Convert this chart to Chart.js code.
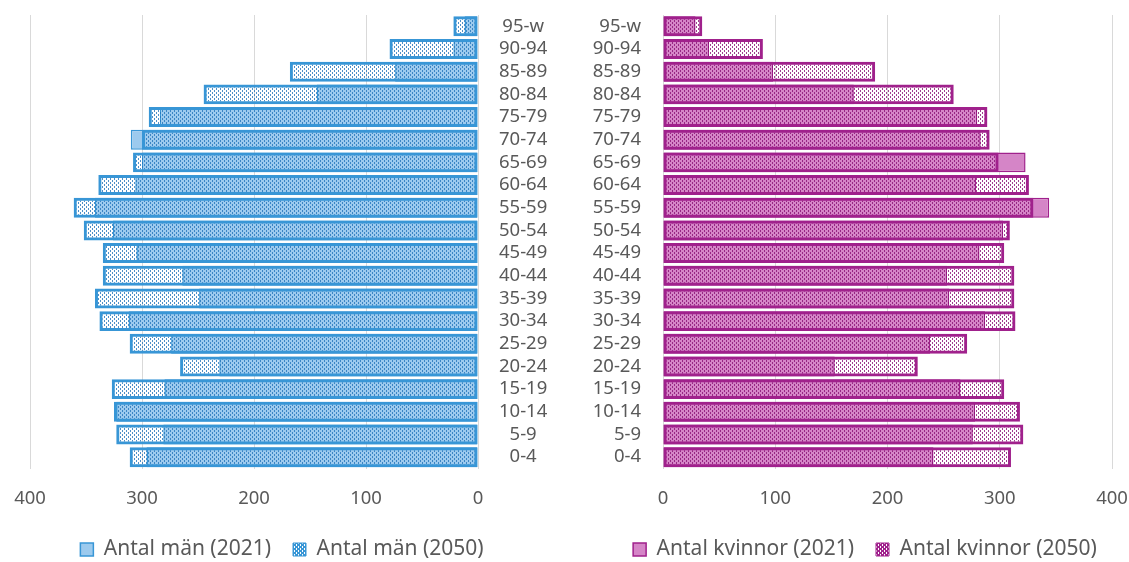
<!DOCTYPE html>
<html>
<head>
<meta charset="utf-8">
<script src="https://cdn.jsdelivr.net/npm/chart.js@4.4.1/dist/chart.umd.min.js"></script>
<style>
    html, body { margin: 0; padding: 0; background: #fff; overflow: hidden; }
    #men { position: absolute; left: 0; top: 0; width: 564px; height: 562px; }
    #women { position: absolute; left: 590px; top: 0; width: 550px; height: 562px; }
</style>
</head>
<body>
<div id="men"><canvas id="men-chart"></canvas></div>
<div id="women"><canvas id="women-chart"></canvas></div>
<script>
// age groups, top to bottom
const ageGroups = ['95-w', '90-94', '85-89', '80-84', '75-79', '70-74', '65-69', '60-64', '55-59', '50-54',
    '45-49', '40-44', '35-39', '30-34', '25-29', '20-24', '15-19', '10-14', '5-9', '0-4'];

const men2021 = [12, 22, 74, 144, 284, 310, 300, 306, 342, 326, 305, 264, 249, 312, 274, 231, 280, 323, 281, 296];
const men2050 = [22, 79, 168, 245, 294, 300, 308, 339, 361, 352, 335, 335, 342, 338, 311, 266, 327, 325, 323, 311];
const women2021 = [29, 41, 98, 170, 280, 283, 323, 279, 344, 303, 282, 253, 255, 287, 238, 153, 265, 278, 276, 241];
const women2050 = [35, 89, 189, 259, 289, 291, 299, 326, 330, 309, 304, 313, 313, 314, 271, 227, 304, 318, 321, 310];

const xTicks = [0, 100, 200, 300, 400];

const textColor = '#595959';
const gridColor = '#d9d9d9';
const fontFamily = "'Noto Sans', sans-serif";

function makePattern(dot, bg) {
    const c = document.createElement('canvas');
    c.width = 4;
    c.height = 4;
    const g = c.getContext('2d');
    if (bg) {
        g.fillStyle = bg;
        g.fillRect(0, 0, 4, 4);
    }
    g.fillStyle = dot;
    g.fillRect(0, 0, 1, 2);
    g.fillRect(2, 2, 1, 2);
    return g.createPattern(c, 'repeat');
}

function pyramid(canvasId, cfg) {
    const legendPattern = makePattern('#ffffff', cfg.dark);

    return new Chart(document.getElementById(canvasId), {
        type: 'bar',
        data: {
            labels: ageGroups,
            datasets: [
                {
                    label: cfg.label2021,
                    data: cfg.data2021,
                    backgroundColor: cfg.light,
                    borderColor: cfg.dark,
                    borderWidth: 1.5,
                    borderSkipped: false,
                    order: 1
                },
                {
                    label: cfg.label2050,
                    data: cfg.data2050,
                    backgroundColor: makePattern(cfg.dots),
                    borderColor: cfg.dark,
                    borderWidth: 3,
                    borderSkipped: false,
                    order: 0
                }
            ]
        },
        options: {
            indexAxis: 'y',
            responsive: true,
            maintainAspectRatio: false,
            animation: false,
            layout: { padding: { left: 0, right: 0, top: 15, bottom: -8 } },
            datasets: {
                bar: { grouped: false, categoryPercentage: 1, barPercentage: 0.88 }
            },
            scales: {
                x: {
                    min: 0,
                    max: 400,
                    reverse: cfg.reverse,
                    afterBuildTicks: (scale) => { scale.ticks = xTicks.map(v => ({ value: v })); },
                    afterFit: (scale) => {
                        // side gaps handled here so the legend stays centred on the canvas
                        scale.height = 48.5;
                        scale.paddingLeft = cfg.gapLeft;
                        scale.paddingRight = cfg.gapRight;
                    },
                    grid: { color: gridColor, drawTicks: false },
                    border: { display: false },
                    ticks: { color: textColor, padding: 19, font: { family: fontFamily, size: 18.5 } }
                },
                y: {
                    position: cfg.yPosition,
                    afterFit: (scale) => {
                        scale.width = cfg.yWidth;
                        scale.paddingTop = 0;
                        scale.paddingBottom = 0;
                    },
                    grid: { display: false, drawTicks: false },
                    border: { display: true, color: gridColor },
                    ticks: {
                        color: textColor,
                        padding: cfg.yPadding,
                        crossAlign: cfg.crossAlign,
                        autoSkip: false,
                        font: { family: fontFamily, size: 18.5 }
                    }
                }
            },
            plugins: {
                tooltip: { enabled: false },
                legend: {
                    position: 'bottom',
                    labels: {
                        color: textColor,
                        boxWidth: 13,
                        boxHeight: 13,
                        padding: 22,
                        font: { family: fontFamily, size: 21 },
                        sort: (a, b) => a.datasetIndex - b.datasetIndex,
                        generateLabels: (chart) => {
                            const items = Chart.defaults.plugins.legend.labels.generateLabels(chart);
                            items.forEach(item => {
                                if (item.datasetIndex === 1) {
                                    item.fillStyle = legendPattern;
                                    item.lineWidth = 1;
                                } else {
                                    item.fillStyle = cfg.light;
                                    item.lineWidth = 1.5;
                                }
                                item.strokeStyle = cfg.dark;
                            });
                            return items;
                        }
                    }
                }
            }
        }
    });
}

pyramid('men-chart', {
    label2021: 'Antal män (2021)',
    label2050: 'Antal män (2050)',
    data2021: men2021,
    data2050: men2050,
    light: '#9ccaee',
    dark: '#3896d6',
    dots: 'rgba(35, 115, 185, 0.8)',
    reverse: true,
    yPosition: 'right',
    yWidth: 86,
    yPadding: 21,
    crossAlign: 'center',
    gapLeft: 30,
    gapRight: 0
});

pyramid('women-chart', {
    label2021: 'Antal kvinnor (2021)',
    label2050: 'Antal kvinnor (2050)',
    data2021: women2021,
    data2050: women2050,
    light: '#d585c7',
    dark: '#a0218c',
    dots: 'rgba(135, 15, 115, 0.8)',
    reverse: false,
    yPosition: 'left',
    yWidth: 73,
    yPadding: 22,
    crossAlign: 'near',
    gapLeft: 0,
    gapRight: 28
});
</script>
</body>
</html>
